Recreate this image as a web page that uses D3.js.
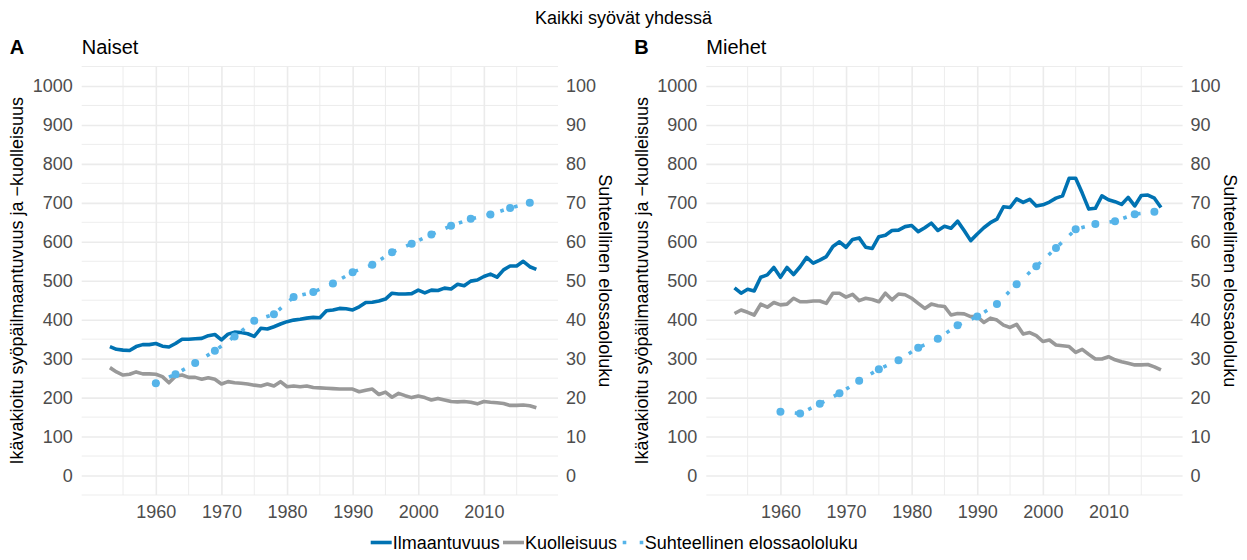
<!DOCTYPE html>
<html><head><meta charset="utf-8">
<script src="https://cdn.jsdelivr.net/npm/d3@7"></script>
<style>
body{margin:0;background:#fff;}
text{font-family:"Liberation Sans",Arial,Helvetica,sans-serif;}
</style></head>
<body><svg id="c" width="1247" height="560"></svg>
<script>
// ---- data ----
const years = [1953,1954,1955,1956,1957,1958,1959,1960,1961,1962,1963,1964,1965,1966,1967,1968,1969,1970,1971,1972,1973,1974,1975,1976,1977,1978,1979,1980,1981,1982,1983,1984,1985,1986,1987,1988,1989,1990,1991,1992,1993,1994,1995,1996,1997,1998,1999,2000,2001,2002,2003,2004,2005,2006,2007,2008,2009,2010,2011,2012,2013,2014,2015,2016,2017,2018];
const survYears = [1960,1963,1966,1969,1972,1975,1978,1981,1984,1987,1990,1993,1996,1999,2002,2005,2008,2011,2014,2017];

const naisetIlmaantuvuus = [331,324,322,321,331,336,336,339,332,330,339,350,350,351,352,359,362,348,363,368,367,364,357,378,376,382,389,395,399,401,404,406,405,423,425,429,428,425,433,444,445,448,453,468,466,466,467,476,469,476,475,481,479,491,487,499,502,511,517,509,528,538,538,550,536,529];
const naisetKuolleisuus = [277,266,258,260,266,261,261,260,254,238,255,258,252,252,247,251,247,235,241,238,237,235,232,230,235,230,241,228,230,228,230,226,225,224,223,222,222,222,215,219,222,208,214,201,211,205,200,204,200,194,198,194,190,189,190,188,184,190,188,187,185,180,180,181,179,174];
const naisetElossaolo = [23.7,26.0,28.9,32.0,35.7,39.7,41.4,45.8,47.1,49.3,52.2,54.1,57.3,59.5,61.9,64.1,65.9,67.0,68.7,70.0];

const miehetIlmaantuvuus = [482,468,478,474,509,515,534,509,534,516,536,560,545,553,562,588,600,586,606,610,586,583,613,617,629,630,639,642,626,636,648,629,640,635,653,629,603,620,636,649,658,690,688,710,701,709,692,695,702,712,718,763,763,725,684,686,718,708,703,696,714,692,719,720,712,688];
const miehetKuolleisuus = [416,425,419,412,440,432,444,438,440,455,446,446,448,448,442,468,468,458,465,449,455,452,446,468,451,466,464,455,442,429,440,436,434,412,416,415,408,408,393,404,399,386,380,388,363,367,359,344,348,335,333,331,316,324,311,299,299,305,297,292,288,284,284,285,279,271];
const miehetElossaolo = [16.4,15.9,18.4,21.1,24.3,27.3,29.6,32.8,35.1,38.6,40.8,44.0,49.1,53.7,58.4,63.2,64.6,65.3,67.1,67.7];

const yTicks = [0,100,200,300,400,500,600,700,800,900,1000];
const y2Ticks = [0,10,20,30,40,50,60,70,80,90,100];
const xTicks = [1960,1970,1980,1990,2000,2010];

const title = "Kaikki syövät yhdessä";
const yTitle = "Ikävakioitu syöpäilmaantuvuus ja −kuolleisuus";
const y2Title = "Suhteellinen elossaololuku";
const seriesNames = ["Ilmaantuvuus","Kuolleisuus","Suhteellinen elossaololuku"];
const colors = ["#0072B2","#999999","#56B4E9"];

const panels = [
  {tag:"A", name:"Naiset", x0:81.7, inc:naisetIlmaantuvuus, mort:naisetKuolleisuus, surv:naisetElossaolo},
  {tag:"B", name:"Miehet", x0:706.3, inc:miehetIlmaantuvuus, mort:miehetKuolleisuus, surv:miehetElossaolo}
];

// ---- drawing ----
const svg = d3.select("#c");
const PW = 476.3, pTop = 66.5, pBottom = 495;
const y = d3.scaleLinear().domain([-50,1050]).range([pBottom, pTop]);
const y2 = d3.scaleLinear().domain([-5,105]).range([pBottom, pTop]);
const tickColor = "#4d4d4d";
const grid = "#ebebeb";

svg.append("text").attr("x",623.5).attr("y",24).attr("text-anchor","middle")
  .attr("font-size",18).attr("fill","#000").text(title);

panels.forEach(p => {
  const x = d3.scaleLinear().domain([1948.7, 2021.3]).range([p.x0, p.x0+PW]);
  const g = svg.append("g");
  // minor grid
  const yMinor = d3.range(-50, 1051, 100);
  const xMinor = xTicks.slice(0,-1).map(v=>v+5).concat([xTicks[0]-5, xTicks[xTicks.length-1]+5]);
  g.selectAll(".hmin").data(yMinor).join("line")
    .attr("x1",p.x0).attr("x2",p.x0+PW).attr("y1",d=>y(d)).attr("y2",d=>y(d))
    .attr("stroke",grid).attr("stroke-width",0.9);
  g.selectAll(".vmin").data(xMinor).join("line")
    .attr("x1",d=>x(d)).attr("x2",d=>x(d)).attr("y1",pTop).attr("y2",pBottom)
    .attr("stroke",grid).attr("stroke-width",0.9);
  // major grid via axes
  const gy = g.append("g").attr("transform",`translate(${p.x0},0)`)
    .call(d3.axisLeft(y).tickValues(yTicks).tickSize(-PW).tickPadding(9).tickFormat(d3.format("d")));
  gy.select(".domain").remove();
  gy.selectAll(".tick line").attr("stroke",grid).attr("stroke-width",1.6);
  gy.selectAll(".tick text").attr("font-size",18).attr("fill",tickColor).attr("font-family",null);

  const gx = g.append("g").attr("transform",`translate(0,${pBottom})`)
    .call(d3.axisBottom(x).tickValues(xTicks).tickSize(-(pBottom-pTop)).tickPadding(10).tickFormat(d3.format("d")));
  gx.select(".domain").remove();
  gx.selectAll(".tick line").attr("stroke",grid).attr("stroke-width",1.6);
  gx.selectAll(".tick text").attr("font-size",18).attr("fill",tickColor).attr("font-family",null);

  const gy2 = g.append("g").attr("transform",`translate(${p.x0+PW},0)`)
    .call(d3.axisRight(y2).tickValues(y2Ticks).tickSize(0).tickPadding(8).tickFormat(d3.format("d")));
  gy2.select(".domain").remove();
  gy2.selectAll(".tick text").attr("font-size",18).attr("fill",tickColor).attr("font-family",null);

  // axis titles
  const cy = (pTop+pBottom)/2;
  g.append("text").attr("transform",`translate(${p.x0-58.7},${cy}) rotate(-90)`)
    .attr("text-anchor","middle").attr("font-size",18).attr("fill","#000").text(yTitle);
  g.append("text").attr("transform",`translate(${p.x0+PW+41},${cy}) rotate(90)`)
    .attr("text-anchor","middle").attr("font-size",18).attr("fill","#000").text(y2Title);

  // panel titles
  g.append("text").attr("x",p.x0-72).attr("y",54).attr("font-size",20).attr("font-weight","bold").attr("fill","#000").text(p.tag);
  g.append("text").attr("x",p.x0).attr("y",54).attr("font-size",20).attr("fill","#000").text(p.name);

  // lines
  const line = d3.line().x(d=>x(d[0])).y(d=>y(d[1]));
  const line2 = d3.line().x(d=>x(d[0])).y(d=>y2(d[1]));
  g.append("path").datum(years.map((yr,i)=>[yr,p.mort[i]])).attr("d",line)
    .attr("fill","none").attr("stroke",colors[1]).attr("stroke-width",3.6).attr("stroke-linejoin","round");
  g.append("path").datum(years.map((yr,i)=>[yr,p.inc[i]])).attr("d",line)
    .attr("fill","none").attr("stroke",colors[0]).attr("stroke-width",3.6).attr("stroke-linejoin","round");
  const sd = survYears.map((yr,i)=>[yr,p.surv[i]]);
  g.append("path").datum(sd).attr("d",line2)
    .attr("fill","none").attr("stroke",colors[2]).attr("stroke-width",3.6).attr("stroke-dasharray","3.6,10.8");
  g.selectAll(".pt").data(sd).join("circle")
    .attr("cx",d=>x(d[0])).attr("cy",d=>y2(d[1])).attr("r",4).attr("fill",colors[2]);
});

// legend
const lg = svg.append("g");
const ly = 542.5;
const items = [
  {name:seriesNames[0], x:370.7, c:colors[0], dash:null},
  {name:seriesNames[1], x:503, c:colors[1], dash:null},
  {name:seriesNames[2], x:622.7, c:colors[2], dash:"3.6,13.4"}
];
items.forEach(it=>{
  lg.append("line").attr("x1",it.x).attr("x2",it.x+21).attr("y1",ly).attr("y2",ly)
    .attr("stroke",it.c).attr("stroke-width",3.6).attr("stroke-dasharray",it.dash);
  lg.append("text").attr("x",it.x+22).attr("y",ly+6.3).attr("font-size",18).attr("fill","#000").text(it.name);
});
</script></body></html>
